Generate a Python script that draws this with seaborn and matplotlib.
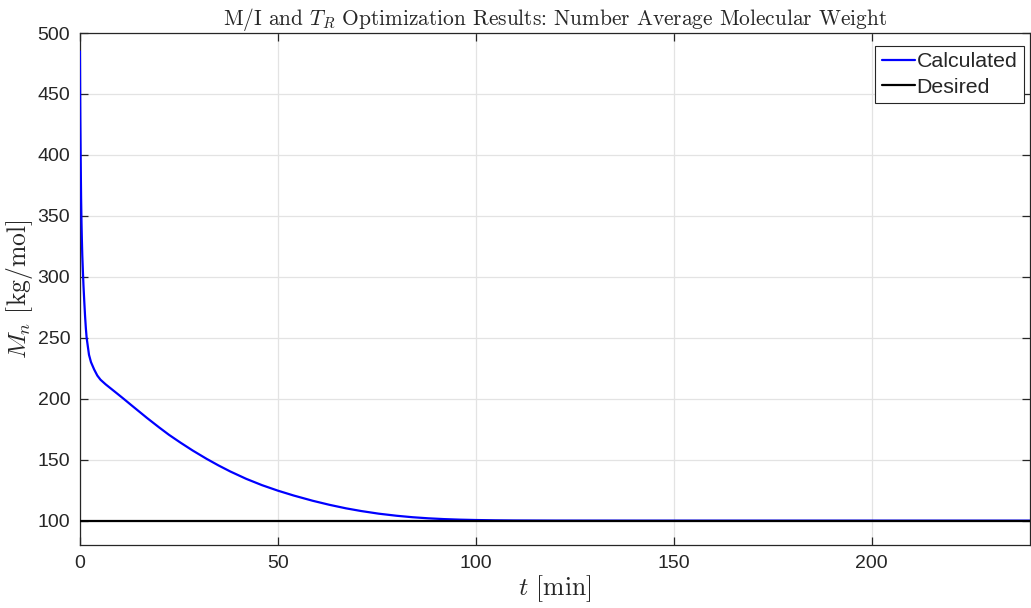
import pandas as pd
import seaborn as sns
import matplotlib.pyplot as plt

t_calc = [0, 0.05, 0.1, 0.2, 0.3, 0.4, 0.5, 0.6, 0.75, 0.9, 1.1, 1.3, 1.5, 1.7, 2.0, 2.3,
          2.8, 3.6, 4.4, 5.2, 6.5, 8, 9.5, 11.1, 13, 15, 17, 20, 22.5, 25.4, 28.5, 32,
          35, 38, 42, 46, 50, 54, 58.8, 63, 67.2, 71, 75.5, 80, 84, 88, 92, 96, 100, 105,
          110, 120, 140, 200, 240]
mn_calc = [485, 455, 430, 395, 365, 345, 330, 318, 305, 293, 280, 268, 258, 250, 243, 236,
           230, 224, 219, 215.6, 211.8, 207.9, 204, 199.8, 194.7, 189.4, 184.1, 176.5, 170.4,
           164, 157.5, 150.7, 145.3, 140.3, 134.3, 129.1, 124.6, 120.6, 116.3, 113, 110.1,
           107.9, 105.7, 104, 102.8, 101.9, 101.25, 100.8, 100.5, 100.25, 100.12, 100.03,
           100, 100, 100]
t_des = [0, 240]
mn_des = [100, 100]

sns.set_style("whitegrid")
plt.rcParams['font.family'] = ['Liberation Sans', 'DejaVu Sans']
plt.rcParams['mathtext.fontset'] = 'cm'

df = pd.concat([
    pd.DataFrame({'t': t_calc, 'Mn': mn_calc, 'series': 'Calculated'}),
    pd.DataFrame({'t': t_des, 'Mn': mn_des, 'series': 'Desired'}),
])

fig = plt.figure(figsize=(10.31, 6.08), dpi=100)
ax = fig.add_axes([0.0775, 0.1036, 0.9215, 0.8421])

sns.lineplot(data=df, x='t', y='Mn', hue='series', palette={'Calculated': '#0000ff', 'Desired': '#000000'},
             sort=False, linewidth=1.6, ax=ax, estimator=None)
# curves sit on top of the axes box, like matlab
for ln in ax.lines:
    ln.set_zorder(3)

ax.set_xlim(0, 240)
ax.set_ylim(80, 500)
ax.set_xticks([0, 50, 100, 150, 200])
ax.set_yticks(range(100, 501, 50))
ax.grid(True, color='#e3e3e3', linewidth=0.9)
for s in ax.spines.values():
    s.set_color('#262626')
    s.set_linewidth(0.9)
    s.set_visible(True)
ax.tick_params(direction='in', length=6, width=0.9, color='#262626', labelcolor='#262626',
               labelsize=14, top=True, right=True, bottom=True, left=True, pad=7)

ax.set_title('M/I and $T_R$ Optimization Results: Number Average Molecular Weight',
             fontfamily='cmr10', fontsize=15.4, pad=6)
ax.set_xlabel('$t$ [min]', fontfamily='cmr10', fontsize=18.5, labelpad=1)
ax.set_ylabel('$M_n$ [kg/mol]', fontfamily='cmr10', fontsize=18.5, labelpad=2)

leg = ax.legend(loc='upper right', bbox_to_anchor=(0.9935, 0.975), frameon=True, fancybox=False,
                edgecolor='#262626', framealpha=1, fontsize=15.4, handlelength=1.55,
                handletextpad=0.08, borderpad=0.3, labelspacing=0.3, borderaxespad=0)
leg.get_frame().set_linewidth(0.8)
leg.set_zorder(5)
leg.set_title(None)

fig.savefig('out.png', dpi=100, facecolor='white')
